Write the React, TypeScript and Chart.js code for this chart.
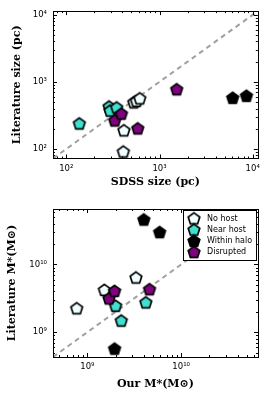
import React, { useEffect, useRef } from 'react';
import { Chart, registerables } from 'chart.js';

Chart.register(...registerables);

// ---------- data ----------
const GROUP_LABELS = ['No host', 'Near host', 'Within halo', 'Disrupted'];
const GROUP_FILLS = ['#f0ffff', '#40e0d0', '#000000', '#800080'];

// Top panel: sizes (pc)
const SIZE_NO_HOST_X = [409, 415, 530, 566, 614];
const SIZE_NO_HOST_Y = [91, 189, 494, 518, 565];
const SIZE_NEAR_HOST_X = [138, 288, 295, 347];
const SIZE_NEAR_HOST_Y = [239, 428, 371, 414];
const SIZE_HALO_X = [6100, 8570];
const SIZE_HALO_Y = [578, 619];
const SIZE_DISRUPTED_X = [331, 390, 585, 1531];
const SIZE_DISRUPTED_Y = [265, 335, 202, 774];

// Bottom panel: stellar masses (Msun)
const MASS_NO_HOST_X = [7.7e8, 1.52e9, 3.3e9];
const MASS_NO_HOST_Y = [2.25e9, 4.2e9, 6.4e9];
const MASS_NEAR_HOST_X = [2.0e9, 2.3e9, 4.2e9];
const MASS_NEAR_HOST_Y = [2.45e9, 1.48e9, 2.75e9];
const MASS_HALO_X = [1.95e9, 4.0e9, 5.9e9];
const MASS_HALO_Y = [5.7e8, 4.6e10, 3.0e10];
const MASS_DISRUPTED_X = [1.7e9, 1.95e9, 4.6e9];
const MASS_DISRUPTED_Y = [3.15e9, 4.06e9, 4.3e9];

// Axis limits (same for x and y in each panel) and tick labels
const SIZE_LIMITS = [72, 11350];
const MASS_LIMITS = [4.3e8, 6.6e10];
const SIZE_TICKS = [100, 1000, 10000];
const SIZE_TICK_LABELS = ['10²', '10³', '10⁴'];
const MASS_TICKS = [1e9, 1e10];
const MASS_TICK_LABELS = ['10⁹', '10¹⁰'];

const SIZE_X_TITLE = 'SDSS size (pc)';
const SIZE_Y_TITLE = 'Literature size (pc)';
const MASS_X_TITLE = 'Our M*(M⊙)';
const MASS_Y_TITLE = 'Literature M*(M⊙)';

// ---------- helpers ----------
function makePentagon(fill: string): HTMLCanvasElement {
  const c = document.createElement('canvas');
  c.width = 18;
  c.height = 18;
  const ctx = c.getContext('2d')!;
  const R = 6.1;
  ctx.beginPath();
  for (let i = 0; i < 5; i++) {
    const a = -Math.PI / 2 + (i * 2 * Math.PI) / 5;
    const x = 9 + R * Math.cos(a);
    const y = 9.5 + R * Math.sin(a);
    if (i === 0) ctx.moveTo(x, y);
    else ctx.lineTo(x, y);
  }
  ctx.closePath();
  ctx.fillStyle = fill;
  ctx.fill();
  ctx.lineWidth = 1.7;
  ctx.lineJoin = 'miter';
  ctx.strokeStyle = '#000';
  ctx.stroke();
  return c;
}

function logTicks(min: number, max: number) {
  const out: { value: number }[] = [];
  const lo = Math.floor(Math.log10(min));
  const hi = Math.ceil(Math.log10(max));
  for (let d = lo; d <= hi; d++) {
    for (let k = 1; k <= 9; k++) {
      const v = k * Math.pow(10, d);
      if (v >= min && v <= max) out.push({ value: v });
    }
  }
  return out;
}

function isMajor(v: number) {
  const l = Math.log10(v);
  return Math.abs(l - Math.round(l)) < 1e-9;
}

const frameTicksPlugin = {
  id: 'frameTicks',
  afterDatasetsDraw(chart: any) {
    const { ctx, chartArea: a, scales } = chart;
    ctx.save();
    ctx.strokeStyle = '#000';
    ctx.lineWidth = 1;
    ctx.beginPath();
    for (const t of scales.x.ticks) {
      const px = Math.round(scales.x.getPixelForValue(t.value)) + 0.5;
      const len = isMajor(t.value) ? 4 : 2;
      ctx.moveTo(px, a.bottom);
      ctx.lineTo(px, a.bottom - len);
      ctx.moveTo(px, a.top);
      ctx.lineTo(px, a.top + len);
    }
    for (const t of scales.y.ticks) {
      const py = Math.round(scales.y.getPixelForValue(t.value)) + 0.5;
      const len = isMajor(t.value) ? 4 : 2;
      ctx.moveTo(a.left, py);
      ctx.lineTo(a.left + len, py);
      ctx.moveTo(a.right, py);
      ctx.lineTo(a.right - len, py);
    }
    ctx.stroke();
    ctx.strokeRect(
      Math.round(a.left) + 0.5,
      Math.round(a.top) + 0.5,
      Math.round(a.right - a.left),
      Math.round(a.bottom - a.top)
    );
    ctx.restore();
  },
};

const pentLegendPlugin = {
  id: 'pentLegend',
  afterDraw(chart: any, _args: any, opts: any) {
    if (!opts || !opts.show) return;
    const { ctx, chartArea: a } = chart;
    const w = 73;
    const h = 50;
    const left = Math.round(a.right - 75);
    const top = Math.round(a.top + 1);
    ctx.save();
    ctx.fillStyle = '#fff';
    ctx.fillRect(left, top, w, h);
    ctx.strokeStyle = '#000';
    ctx.lineWidth = 1;
    ctx.strokeRect(left + 0.5, top + 0.5, w, h);
    ctx.font = '8px "DejaVu Sans"';
    ctx.fillStyle = '#000';
    ctx.textBaseline = 'middle';
    ctx.textAlign = 'left';
    opts.items.forEach((it: any, i: number) => {
      const cy = top + 8.5 + i * 11.2;
      ctx.drawImage(it.img, left + 11 - it.img.width / 2, cy - it.img.height / 2);
      ctx.fillText(it.label, left + 24, cy);
    });
    ctx.restore();
  },
};

function buildConfig(p: any) {
  const imgs = GROUP_FILLS.map(makePentagon);
  const groups = p.groups.map((g: any, i: number) => ({
    label: GROUP_LABELS[i],
    data: g[0].map((x: number, j: number) => ({ x, y: g[1][j] })),
    pointStyle: imgs[i],
    pointRadius: 6,
    pointHoverRadius: 6,
    showLine: false,
    order: 3 - i,
  }));
  const tickLabel = (v: number) => {
    const idx = p.ticks.findIndex((t: number) => Math.abs(Math.log10(t) - Math.log10(v)) < 1e-9);
    return idx >= 0 ? p.tickLabels[idx] : '';
  };
  const titleFont = { family: 'DejaVu Serif', weight: 'bold' as const, size: 11 };
  const tickFont = { family: 'DejaVu Sans', size: 8.5 };
  return {
    type: 'scatter' as const,
    data: {
      datasets: [
        {
          type: 'line' as const,
          data: [
            { x: p.lim[0], y: p.lim[0] },
            { x: p.lim[1], y: p.lim[1] },
          ],
          borderColor: '#a0a0a0',
          borderWidth: 2,
          borderDash: [5, 4],
          pointRadius: 0,
          fill: false,
          order: 10,
        },
        ...groups,
      ],
    },
    options: {
      responsive: false,
      animation: false,
      events: [],
      layout: { padding: p.padding },
      plugins: {
        legend: { display: false },
        tooltip: { enabled: false },
        pentLegend: p.legend
          ? { show: true, items: GROUP_LABELS.map((l, i) => ({ label: l, img: imgs[i] })) }
          : { show: false },
      },
      scales: {
        x: {
          type: 'logarithmic',
          min: p.lim[0],
          max: p.lim[1],
          afterBuildTicks: (s: any) => {
            s.ticks = logTicks(p.lim[0], p.lim[1]);
          },
          afterFit: (s: any) => {
            s.height = p.xh;
          },
          grid: { display: false, drawTicks: false },
          border: { display: false },
          ticks: {
            autoSkip: false,
            maxRotation: 0,
            padding: 5,
            color: '#000',
            font: tickFont,
            callback: (v: any) => tickLabel(Number(v)),
          },
          title: {
            display: true,
            text: p.xTitle,
            color: '#000',
            font: titleFont,
            padding: { top: 0, bottom: p.xTitlePad },
          },
        },
        y: {
          type: 'logarithmic',
          min: p.lim[0],
          max: p.lim[1],
          afterBuildTicks: (s: any) => {
            s.ticks = logTicks(p.lim[0], p.lim[1]);
          },
          afterFit: (s: any) => {
            s.width = 53;
          },
          grid: { display: false, drawTicks: false },
          border: { display: false },
          ticks: {
            autoSkip: false,
            padding: 6,
            color: '#000',
            font: tickFont,
            callback: (v: any) => tickLabel(Number(v)),
          },
          title: {
            display: true,
            text: p.yTitle,
            color: '#000',
            font: titleFont,
            padding: { top: p.yTitlePad, bottom: 0 },
          },
        },
      },
    },
    plugins: [frameTicksPlugin, pentLegendPlugin],
  };
}

export default function App() {
  const topRef = useRef<HTMLCanvasElement>(null);
  const botRef = useRef<HTMLCanvasElement>(null);

  useEffect(() => {
    Chart.defaults.font.family = 'DejaVu Sans';
    const top = new Chart(
      topRef.current!,
      buildConfig({
        groups: [
          [SIZE_NO_HOST_X, SIZE_NO_HOST_Y],
          [SIZE_NEAR_HOST_X, SIZE_NEAR_HOST_Y],
          [SIZE_HALO_X, SIZE_HALO_Y],
          [SIZE_DISRUPTED_X, SIZE_DISRUPTED_Y],
        ],
        lim: SIZE_LIMITS,
        ticks: SIZE_TICKS,
        tickLabels: SIZE_TICK_LABELS,
        xTitle: SIZE_X_TITLE,
        yTitle: SIZE_Y_TITLE,
        padding: { left: 0, right: 7, top: 9, bottom: 0 },
        xh: 38.5,
        xTitlePad: 8,
        yTitlePad: 11,
        legend: false,
      }) as any
    );
    const bot = new Chart(
      botRef.current!,
      buildConfig({
        groups: [
          [MASS_NO_HOST_X, MASS_NO_HOST_Y],
          [MASS_NEAR_HOST_X, MASS_NEAR_HOST_Y],
          [MASS_HALO_X, MASS_HALO_Y],
          [MASS_DISRUPTED_X, MASS_DISRUPTED_Y],
        ],
        lim: MASS_LIMITS,
        ticks: MASS_TICKS,
        tickLabels: MASS_TICK_LABELS,
        xTitle: MASS_X_TITLE,
        yTitle: MASS_Y_TITLE,
        padding: { left: 0, right: 7, top: 12, bottom: 0 },
        xh: 38,
        xTitlePad: 4,
        yTitlePad: 6,
        legend: true,
      }) as any
    );
    return () => {
      top.destroy();
      bot.destroy();
    };
  }, []);

  return (
    <div style={{ position: 'absolute', left: 0, top: 0, width: 265, height: 395, background: '#fff' }}>
      <canvas
        ref={topRef}
        width={265}
        height={197}
        style={{ position: 'absolute', left: 0, top: 0, width: 265, height: 197 }}
      />
      <canvas
        ref={botRef}
        width={265}
        height={198}
        style={{ position: 'absolute', left: 0, top: 197, width: 265, height: 198 }}
      />
    </div>
  );
}
